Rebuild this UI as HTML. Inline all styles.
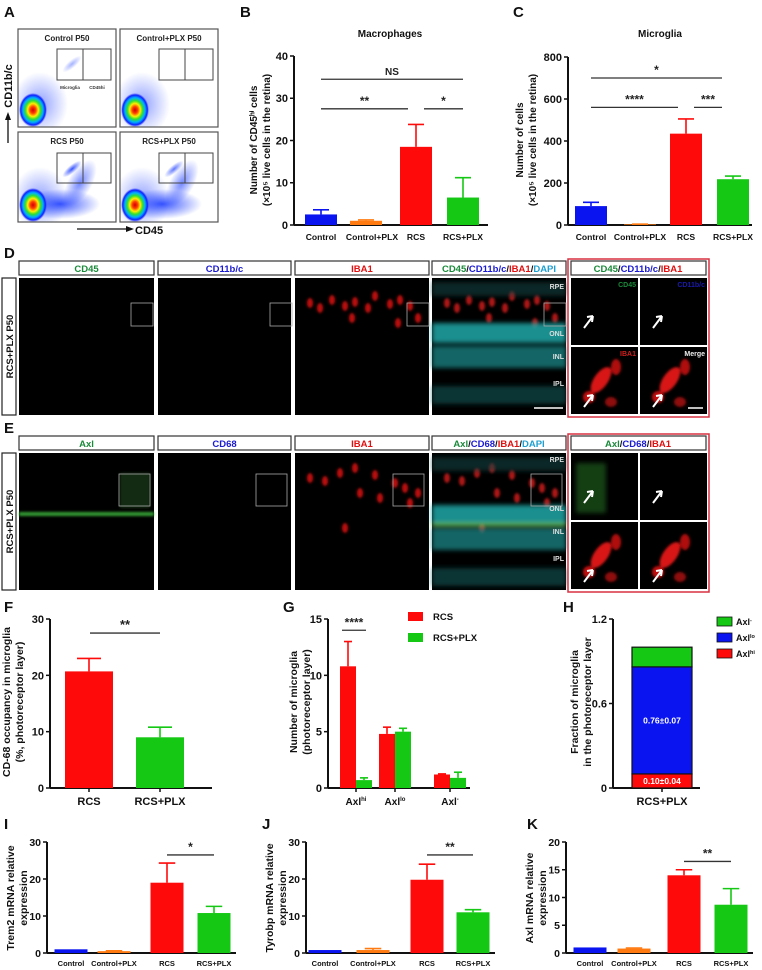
<!DOCTYPE html>
<html><head><meta charset="utf-8">
<style>
html,body{margin:0;padding:0;background:#fff;}
svg{display:block;font-family:"Liberation Sans",Arial,sans-serif;font-weight:bold;}
</style></head>
<body>
<svg id="fig" width="762" height="970" viewBox="0 0 762 970" xmlns="http://www.w3.org/2000/svg">
<defs>
<radialGradient id="dens" cx="50%" cy="50%" r="50%">
<stop offset="0" stop-color="#d00000"/><stop offset="0.2" stop-color="#ff4000"/><stop offset="0.38" stop-color="#ffee00"/><stop offset="0.55" stop-color="#30e030"/><stop offset="0.72" stop-color="#00b0ff"/><stop offset="0.88" stop-color="#1020ff"/><stop offset="1" stop-color="#2030ff" stop-opacity="0"/>
</radialGradient>
<radialGradient id="haze" cx="50%" cy="50%" r="50%">
<stop offset="0" stop-color="#2040ff" stop-opacity="0.9"/><stop offset="1" stop-color="#2040ff" stop-opacity="0"/>
</radialGradient>
<filter id="blur1"><feGaussianBlur stdDeviation="1.2"/></filter>
<filter id="blur2"><feGaussianBlur stdDeviation="2.5"/></filter>
</defs>
<g id="root"></g>
</svg>
<script>
// ===== Panel B data =====
var bCategories = ["Control","Control+PLX","RCS","RCS+PLX"];
var bValues = [2.5, 1.0, 18.5, 6.5];
var bErrors = [3.6, 1.2, 23.8, 11.2];
var bTicks = [0,10,20,30,40];
// ===== Panel C data =====
var cCategories = ["Control","Control+PLX","RCS","RCS+PLX"];
var cValues = [90, 3, 435, 218];
var cErrors = [108, 4, 505, 233];
var cTicks = [0,200,400,600,800];
// ===== Panel F data =====
var fCategories = ["RCS","RCS+PLX"];
var fValues = [20.7, 9.0];
var fErrors = [23.0, 10.8];
var fTicks = [0,10,20,30];
// ===== Panel G data =====
var gCategories = ["hi","lo","-"];
var gRcs = [10.8, 4.8, 1.2];
var gRcsErr = [13.0, 5.4, 1.25];
var gPlx = [0.7, 5.0, 0.9];
var gPlxErr = [0.9, 5.3, 1.4];
var gTicks = [0,5,10,15];
// ===== Panel H data =====
var hSegments = ["Axl hi","Axl lo","Axl -"];
var hValues = [0.10, 0.76, 0.14];
var hLabels = ["0.10\u00b10.04","0.76\u00b10.07",""];
var hTicks = [0,0.6,1.2];
// ===== Panels I/J/K data =====
var qCategories = ["Control","Control+PLX","RCS","RCS+PLX"];
var iValues = [1.0, 0.5, 19.0, 10.8];
var iErrors = [1.0, 0.6, 24.3, 12.6];
var iTicks = [0,10,20,30];
var jValues = [0.8, 0.8, 19.8, 11.0];
var jErrors = [0.8, 1.2, 24.0, 11.7];
var jTicks = [0,10,20,30];
var kValues = [1.0, 0.8, 14.0, 8.7];
var kErrors = [1.0, 0.9, 15.0, 11.6];
var kTicks = [0,5,10,15,20];

var NS="http://www.w3.org/2000/svg";
var root=document.getElementById('root');
function el(tag,attrs,parent,text){var e=document.createElementNS(NS,tag);for(var k in attrs)e.setAttribute(k,attrs[k]);if(text!==undefined)e.textContent=text;(parent||root).appendChild(e);return e;}
function txt(x,y,s,size,parent,anchor,fill,name){var t=el('text',{x:x,y:y,'font-size':size,'text-anchor':anchor||'middle',fill:fill||'#111'},parent,s);


return t;}
var BLUE="#0a14f0",ORANGE="#ff7a10",RED="#ff0a0a",GREEN="#14c814";
var barColors=[BLUE,ORANGE,RED,GREEN];

function axisY(g,x0,y0,y1,ticks,max,fs,fmt){
  var ln=el('line',{x1:x0,y1:y0,x2:x0,y2:y1,stroke:'#111','stroke-width':2},g);
  
  
  ticks.forEach(function(t){var y=y0-(y0-y1)*t/max;
    el('line',{x1:x0-4,y1:y,x2:x0,y2:y,stroke:'#111','stroke-width':1.5},g);
    txt(x0-6,y+fs*0.36,fmt?fmt(t):String(t),fs,g,'end','#111','y-tick-label');});
}
function axisX(g,x0,x1,y0){var ln=el('line',{x1:x0,y1:y0,x2:x1,y2:y0,stroke:'#111','stroke-width':2},g);
  
  }
function bar(g,cx,w,v,err,max,y0,h,color,name){
  var sy=function(val){return y0-h*val/max;};
  var top=sy(v);
  var r=el('rect',{x:cx-w/2,y:top,width:w,height:y0-top,fill:color},g);
  
  
  if(err>v){var ey=sy(err);
    el('line',{x1:cx,y1:top,x2:cx,y2:ey,stroke:color,'stroke-width':1.6},g);
    el('line',{x1:cx-w/4,y1:ey,x2:cx+w/4,y2:ey,stroke:color,'stroke-width':1.6},g);}
}
function sig(g,x1,x2,y,label,fs){el('line',{x1:x1,y1:y,x2:x2,y2:y,stroke:'#333','stroke-width':1.3},g);
  txt((x1+x2)/2,y-4,label,fs,g,'middle','#222','significance-label');}
function ylabel(g,x,y,lines,fs,gap){lines.forEach(function(s,i){var t=el('text',{x:0,y:0,'font-size':fs,'text-anchor':'middle',fill:'#111',transform:'translate('+(x+i*gap)+','+y+') rotate(-90)'},g,s);
  
  });}
function letter(x,y,s){txt(x,y,s,15,root,'start','#111','panel-letter-'+s.toLowerCase());}

// ===== Panel A: flow cytometry =====
letter(4,17,'A');
var gA=el('g',{});  
var flowTitles=["Control P50","Control+PLX P50","RCS P50","RCS+PLX P50"];
var boxes=[[18,29],[120,29],[18,132],[120,132]];
var clusterStrength=[0.45,0.05,1,0.8];
var tail=[0.1,0.05,1,1];
boxes.forEach(function(b,i){
  var x=b[0],y=b[1],w=98,h=i<2?98:90;
  var cg=el('g',{},gA);  
  el('clipPath',{id:'cp'+i},cg).appendChild(el('rect',{x:x,y:y,width:w,height:h},cg));
  var inner=el('g',{'clip-path':'url(#cp'+i+')'},cg);
  el('rect',{x:x,y:y,width:w,height:h,fill:'#fff'},inner);
  var by=y+h-17;
  el('ellipse',{cx:x+22,cy:by-6,rx:28,ry:32,fill:'url(#haze)',opacity:0.55},inner);
  if(tail[i]>0.5){el('ellipse',{cx:x+42,cy:by-1,rx:40,ry:15,fill:'url(#haze)',opacity:1},inner);
    el('ellipse',{cx:x+62,cy:by-22,rx:12,ry:26,fill:'url(#haze)',opacity:0.7,transform:'rotate(30 '+(x+62)+' '+(by-22)+')'},inner);}
  el('ellipse',{cx:x+15,cy:by,rx:14,ry:17,fill:'url(#dens)'},inner);
  if(clusterStrength[i]>0.2){el('ellipse',{cx:x+54,cy:y+(i<2?35:37),rx:4,ry:12,fill:'url(#haze)',opacity:clusterStrength[i],transform:'rotate(50 '+(x+54)+' '+(y+(i<2?35:37))+')'},inner);}
  el('rect',{x:x,y:y,width:w,height:h,fill:'none',stroke:'#555','stroke-width':1.2},cg);
  var gy=y+(i<2?20:21),gh=i<2?31:30;
  el('rect',{x:x+39,y:gy,width:26,height:gh,fill:'none',stroke:'#444','stroke-width':1},cg);
  el('rect',{x:x+65,y:gy,width:28,height:gh,fill:'none',stroke:'#444','stroke-width':1},cg);
  txt(x+w/2,y+12,flowTitles[i],8,cg,'middle','#222','flow-plot-title');
  if(i===0){txt(x+52,y+60,'Microglia',4.5,cg,'middle','#333','gate-label');txt(x+79,y+60,'CD45hi',4.5,cg,'middle','#333','gate-label');}
});
el('line',{x1:77,y1:229,x2:128,y2:229,stroke:'#111','stroke-width':1.3},gA);
el('polygon',{points:'134,229 126,226 126,232',fill:'#111'},gA);
txt(135,234,'CD45',11,gA,'start','#111','x-axis-title');
el('line',{x1:8,y1:143,x2:8,y2:118,stroke:'#111','stroke-width':1.3},gA);
el('polygon',{points:'8,112 5,120 11,120',fill:'#111'},gA);
var ta=el('text',{x:0,y:0,'font-size':11,'text-anchor':'middle',fill:'#111',transform:'translate(12,86) rotate(-90)'},gA,'CD11b/c');
 

// ===== Panel B =====
letter(240,17,'B');
var gB=el('g',{});  
txt(390,37,'Macrophages',10,gB,'middle','#111','chart-title');
var bCenters=[321,366,416,463];
var bLabelShift=[0,6,0,0];
axisY(gB,294,225,56,bTicks,40,11);
axisX(gB,294,488,225);
bCategories.forEach(function(c,i){bar(gB,bCenters[i],32,bValues[i],bErrors[i],40,225,169,barColors[i],'bar-'+c.toLowerCase().replace('+','-'));
  txt(bCenters[i]+bLabelShift[i],240,c,8.6,gB,'middle','#111','x-tick-label');});
var sB=function(v){return 225-169*v/40;};
sig(gB,321,463,sB(34.5),'NS',10);
sig(gB,321,408,sB(27.5),'**',12);
sig(gB,424,463,sB(27.5),'*',12);
ylabel(gB,257,140,['Number of CD45\u02b0\u2071 cells','(\u00d710\u2075 live cells in the retina)'],10,13);

// ===== Panel C =====
letter(513,17,'C');
var gC=el('g',{});  
txt(660,37,'Microglia',10,gC,'middle','#111','chart-title');
var cCenters=[591,640,686,733];
axisY(gC,568,225,57,cTicks,800,11);
axisX(gC,568,752,225);
cCategories.forEach(function(c,i){bar(gC,cCenters[i],32,cValues[i],cErrors[i],800,225,168,barColors[i],'bar-'+c.toLowerCase().replace('+','-'));
  txt(cCenters[i],240,c,8.6,gC,'middle','#111','x-tick-label');});
var sC=function(v){return 225-168*v/800;};
sig(gC,591,722,sC(700),'*',12);
sig(gC,591,678,sC(560),'****',12);
sig(gC,694,722,sC(560),'***',12);
ylabel(gC,523,140,['Number of cells','(\u00d710\u2075 live cells in the retina)'],10,13);

// ===== Panels D & E: microscopy =====
function micro(rowTop,hdrTop,headers,letterS,isE){
  letter(4,rowTop-20,letterS);
  var g=el('g',{});  
  var cols=[[19,154],[158,291],[295,429],[432,566]];
  var imgH=137;
  var lb=el('rect',{x:2,y:rowTop,width:14,height:imgH,fill:'#fff',stroke:'#222','stroke-width':1.2},g);
   
  var rt=el('text',{x:0,y:0,'font-size':9.5,'text-anchor':'middle',fill:'#111',transform:'translate(13,'+(rowTop+imgH/2)+') rotate(-90)'},g,'RCS+PLX P50');
   
  cols.forEach(function(c,i){
    var hb=el('rect',{x:c[0],y:hdrTop,width:c[1]-c[0],height:14,fill:'#fff',stroke:'#333','stroke-width':1.2},g);
     
    var t=el('text',{x:(c[0]+c[1])/2,y:hdrTop+11,'font-size':9.5,'text-anchor':'middle'},g);
     
    headers[i].forEach(function(p){el('tspan',{fill:p[1]},t,p[0]);});
    var im=el('rect',{x:c[0],y:rowTop,width:c[1]-c[0],height:imgH,fill:'#000'},g);
     
  });
  var dg=el('g',{filter:'url(#blur1)'},g);
  if(isE){ el('rect',{x:19,y:rowTop+59,width:135,height:4,fill:'#40c040',opacity:0.8},dg);
    el('rect',{x:120,y:rowTop+20,width:30,height:35,fill:'#1a4a1a',opacity:0.6},dg);}
  var spots=isE?[[310,25],[325,28],[340,20],[355,15],[360,40],[375,22],[380,45],[395,30],[405,35],[410,50],[418,40],[345,75]]:
                 [[310,25],[320,30],[332,22],[345,28],[355,24],[368,30],[375,18],[390,26],[400,22],[410,28],[418,40],[398,45],[352,40]];
  spots.forEach(function(s){el('ellipse',{cx:s[0],cy:rowTop+s[1],rx:3,ry:5,fill:'#c01010'},dg);
    el('ellipse',{cx:s[0]+137,cy:rowTop+s[1],rx:3,ry:5,fill:'#b01818'},dg);});
  var dapi=el('g',{filter:'url(#blur2)'},g);
  el('rect',{x:432,y:rowTop+(isE?52:45),width:134,height:20,fill:'#1fa8a8',opacity:0.85},dapi);
  el('rect',{x:432,y:rowTop+(isE?75:68),width:134,height:22,fill:'#178888',opacity:0.75},dapi);
  el('rect',{x:432,y:rowTop+(isE?115:108),width:134,height:18,fill:'#105858',opacity:0.6},dapi);
  el('rect',{x:432,y:rowTop+4,width:134,height:14,fill:'#0e4040',opacity:0.6},dapi);
  if(isE) el('rect',{x:432,y:rowTop+70,width:134,height:3,fill:'#70d040',opacity:0.9},dapi);
  for(var i=0;i<4;i++){var bx=isE?[119,256,393,531][i]:[131,270,407,544][i];
    el('rect',{x:bx,y:rowTop+(isE?21:25),width:isE?31:22,height:isE?32:23,fill:'none',stroke:'#aaa','stroke-width':0.8},g);}
  var lay=isE?[['RPE',5],['ONL',54],['INL',77],['IPL',104]]:[['RPE',7],['ONL',54],['INL',77],['IPL',104]];
  lay.forEach(function(l){txt(564,rowTop+l[1]+4,l[0],7,g,'end','#ddd','layer-label');});
  if(!isE) el('line',{x1:534,y1:rowTop+130,x2:563,y2:rowTop+130,stroke:'#fff','stroke-width':1.5},g);
  var ig=el('g',{},g);  
  el('rect',{x:568,y:hdrTop-2,width:141,height:rowTop+imgH-hdrTop+4,fill:'#fff',stroke:'#d83040','stroke-width':1.5},ig);
  el('rect',{x:571,y:hdrTop,width:135,height:14,fill:'#fff',stroke:'#333','stroke-width':1.2},ig);
  var t2=el('text',{x:638,y:hdrTop+11,'font-size':9.5,'text-anchor':'middle'},ig);
   
  headers[4].forEach(function(p){el('tspan',{fill:p[1]},t2,p[0]);});
  var subs=[[571,rowTop],[640,rowTop],[571,rowTop+69],[640,rowTop+69]];
  var subLabels=isE?['','','','']:['CD45','CD11b/c','IBA1','Merge'];
  var subCol=['#1a8a3a','#1a1aaa','#d02020','#eee'];
  subs.forEach(function(s,k){el('rect',{x:s[0],y:s[1],width:67,height:67,fill:'#000'},ig);
    if(k>=2){var rg=el('g',{filter:'url(#blur1)'},ig);
      el('ellipse',{cx:s[0]+30,cy:s[1]+33,rx:7,ry:15,fill:'#d81818',transform:'rotate(35 '+(s[0]+30)+' '+(s[1]+33)+')'},rg);
      el('ellipse',{cx:s[0]+18,cy:s[1]+50,rx:6,ry:6,fill:'#c01010'},rg);
      el('ellipse',{cx:s[0]+45,cy:s[1]+20,rx:5,ry:8,fill:'#b01010'},rg);
      el('ellipse',{cx:s[0]+40,cy:s[1]+55,rx:6,ry:5,fill:'#900c0c'},rg);}
    if(isE&&k===0){el('rect',{x:s[0]+5,y:s[1]+10,width:30,height:50,fill:'#1a5a1a',opacity:0.7,filter:'url(#blur2)'},ig);}
    if(subLabels[k]) txt(s[0]+65,s[1]+9,subLabels[k],7,ig,'end',subCol[k],'inset-channel-label');
    el('path',{d:'M'+(s[0]+13)+','+(s[1]+(k<2?50:60))+' l9,-12 M'+(s[0]+22)+','+(s[1]+(k<2?38:48))+' l-6,1 M'+(s[0]+22)+','+(s[1]+(k<2?38:48))+' l-1,6',stroke:'#fff','stroke-width':2,fill:'none'},ig);
  });
  if(!isE) el('line',{x1:688,y1:rowTop+130,x2:703,y2:rowTop+130,stroke:'#fff','stroke-width':1.5},ig);
}
var G1='#1a8a3a',B1='#1a1ad0',R1='#e01010',C1='#20a0d0';
micro(278,261,[[['CD45',G1]],[['CD11b/c',B1]],[['IBA1',R1]],[['CD45',G1],['/','#111'],['CD11b/c',B1],['/','#111'],['IBA1',R1],['/','#111'],['DAPI',C1]],[['CD45',G1],['/','#111'],['CD11b/c',B1],['/','#111'],['IBA1',R1]]],'D',false);
micro(453,436,[[['Axl',G1]],[['CD68',B1]],[['IBA1',R1]],[['Axl',G1],['/','#111'],['CD68',B1],['/','#111'],['IBA1',R1],['/','#111'],['DAPI',C1]],[['Axl',G1],['/','#111'],['CD68',B1],['/','#111'],['IBA1',R1]]],'E',true);

// ===== Panel F =====
letter(4,612,'F');
var gF=el('g',{});  
axisY(gF,50,788,619,fTicks,30,11);
axisX(gF,50,212,788);
var fCenters=[89,160];var fCol=[RED,GREEN];
fCategories.forEach(function(c,i){bar(gF,fCenters[i],48,fValues[i],fErrors[i],30,788,169,fCol[i],'bar-'+c.toLowerCase().replace('+','-'));
  el('line',{x1:fCenters[i],y1:788,x2:fCenters[i],y2:792,stroke:'#111','stroke-width':1.5},gF);
  txt(fCenters[i],805,c,11,gF,'middle','#111','x-tick-label');});
sig(gF,90,160,788-169*27.5/30,'**',13);
ylabel(gF,10,702,['CD-68 occupancy in microglia','(%, photoreceptor layer)'],10.5,13);

// ===== Panel G =====
letter(283,612,'G');
var gG=el('g',{});  
axisY(gG,328,788,619,gTicks,15,11);
axisX(gG,328,470,788);
var gCenters=[356,395,450];
gCategories.forEach(function(c,i){
  bar(gG,gCenters[i]-8,16,gRcs[i],gRcsErr[i],15,788,169,RED,'bar-rcs-axl-'+i);
  bar(gG,gCenters[i]+8,16,gPlx[i],gPlxErr[i],15,788,169,GREEN,'bar-rcs-plx-axl-'+i);
  el('line',{x1:gCenters[i],y1:788,x2:gCenters[i],y2:792,stroke:'#111','stroke-width':1.5},gG);
  var t=el('text',{x:gCenters[i],y:805,'font-size':10,'text-anchor':'middle',fill:'#111'},gG,'Axl');
   
  el('tspan',{'font-size':6,dy:-4},t,c);
});
sig(gG,342,366,788-169*14/15,'****',12);
var lg=el('g',{},gG);  
var lgNames=['RCS','RCS+PLX'];var lgCols=[RED,GREEN];
lgNames.forEach(function(n,i){var r=el('rect',{x:408,y:612+i*21,width:15,height:9,fill:lgCols[i]},lg);
   
  txt(433,620+i*21,n,9.5,lg,'start','#111','legend-entry');});
ylabel(gG,297,702,['Number of microglia','(photoreceptor layer)'],10.5,13);

// ===== Panel H =====
letter(563,612,'H');
var gH=el('g',{});  
axisY(gH,613,788,619,hTicks,1.2,11,function(t){return t===0?'0':t.toFixed(1);});
axisX(gH,613,700,788);
var hCols=[RED,BLUE,GREEN];var acc=0;var sH=function(v){return 788-169*v/1.2;};
hSegments.forEach(function(s,i){var y1=sH(acc+hValues[i]),y0=sH(acc);
  var r=el('rect',{x:632,y:y1,width:60,height:y0-y1,fill:hCols[i],stroke:'#111','stroke-width':1.2},gH);
  
  
  if(hLabels[i]) txt(662,(y0+y1)/2+3,hLabels[i],8.5,gH,'middle','#fff','segment-value-label');
  acc+=hValues[i];});
el('line',{x1:662,y1:788,x2:662,y2:792,stroke:'#111','stroke-width':1.5},gH);
txt(662,805,'RCS+PLX',11,gH,'middle','#111','x-tick-label');
var hl=el('g',{},gH);  
var hlSup=['-','lo','hi'];var hlCol=[GREEN,BLUE,RED];
hlSup.forEach(function(s,i){var r=el('rect',{x:717,y:617+i*16,width:15,height:9,fill:hlCol[i],stroke:'#111','stroke-width':0.8},hl);
   
  var t=el('text',{x:736,y:625+i*16,'font-size':9,fill:'#111'},hl,'Axl');
   
  el('tspan',{'font-size':5.5,dy:-3},t,s);});
ylabel(gH,578,702,['Fraction of microglia','in the photoreceptor layer'],10.5,13);

// ===== Panels I, J, K =====
function qchart(L,lx,ax,centers,vals,errs,ticks,max,sigLbl,sigV,title){
  letter(lx,829,L);
  var g=el('g',{});  
  axisY(g,ax,953,842,ticks,max,10.5);
  axisX(g,ax,centers[3]+22,953);
  qCategories.forEach(function(c,i){bar(g,centers[i],33,vals[i],errs[i],max,953,111,barColors[i],'bar-'+c.toLowerCase().replace('+','-'));
    txt(centers[i],966,c,7.5,g,'middle','#111','x-tick-label');});
  sig(g,centers[2],centers[3],953-111*sigV/max,sigLbl,12);
  ylabel(g,ax-33,898,title,10.5,13);
}
qchart('I',4,47,[71,114,167,214],iValues,iErrors,iTicks,30,'*',26.5,['Trem2 mRNA relative','expression']);
qchart('J',262,306,[325,373,427,473],jValues,jErrors,jTicks,30,'**',26.5,['Tyrobp mRNA relative','expression']);
qchart('K',527,566,[590,634,684,731],kValues,kErrors,kTicks,20,'**',16.5,['Axl mRNA relative','expression']);
</script>
</body></html>
